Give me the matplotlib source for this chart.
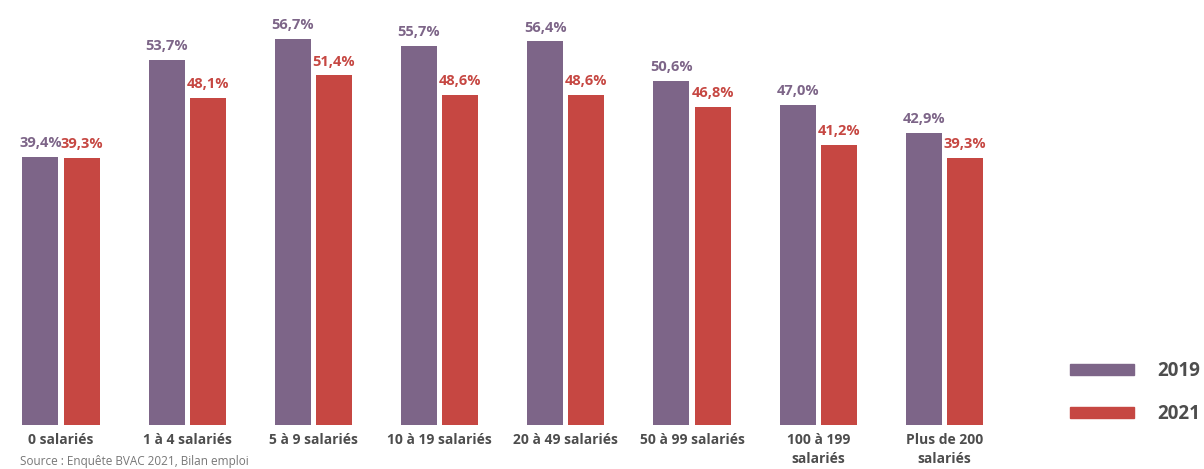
import matplotlib.pyplot as plt
import numpy as np
from matplotlib.patches import Patch

categories = ['0 salariés', '1 à 4 salariés', '5 à 9 salariés', '10 à 19 salariés',
              '20 à 49 salariés', '50 à 99 salariés', '100 à 199\nsalariés', 'Plus de 200\nsalariés']
vals_2019 = [39.4, 53.7, 56.7, 55.7, 56.4, 50.6, 47.0, 42.9]
vals_2021 = [39.3, 48.1, 51.4, 48.6, 48.6, 46.8, 41.2, 39.3]
years = ['2019', '2021']

purple = '#7d6588'
red = '#c64742'
grey = '#4d4d4d'

plt.rcParams['font.family'] = ['Open Sans', 'DejaVu Sans']

fig = plt.figure(figsize=(12.04, 4.69), dpi=100)
ax = fig.add_axes([0, 44 / 469, 1, 425 / 469])

x = np.arange(len(categories))
w = 0.285
off = 0.163
b1 = ax.bar(x - off, vals_2019, w, color=purple)
b2 = ax.bar(x + off, vals_2021, w, color=red)

def fmt(v):
    return f'{v:.1f}%'.replace('.', ',')

for bars, vals, c in [(b1, vals_2019, purple), (b2, vals_2021, red)]:
    for bar, v in zip(bars, vals):
        ax.annotate(fmt(v), (bar.get_x() + bar.get_width() / 2, v),
                    xytext=(0, 5), textcoords='offset points',
                    ha='center', va='bottom', color=c, fontsize=10.5, fontweight='bold')

# group spacing of ~126 px, first group centred near x = 61 px
ax.set_xlim(-61 / 126.2, (1204 - 61) / 126.2)
ax.set_ylim(0, 62.5)
ax.set_xticks(x)
ax.set_xticklabels(categories, fontsize=10, fontweight='bold', color=grey, linespacing=1.45)
ax.tick_params(axis='x', length=0, pad=6)
ax.set_yticks([])
for s in ax.spines.values():
    s.set_visible(False)

handles = [Patch(color=purple), Patch(color=red)]
fig.legend(handles, years, loc='center left', bbox_to_anchor=(1070 / 1204, 0.163),
           frameon=False, borderpad=0, borderaxespad=0,
           handlelength=3.4, handleheight=0.55, handletextpad=1.25, labelspacing=1.2,
           labelcolor=grey, prop={'weight': 'bold', 'size': 13.5})

fig.text(20 / 1204, 1 / 469, 'Source : Enquête BVAC 2021, Bilan emploi',
         va='bottom', ha='left', fontsize=8.5, color='#777777')

fig.savefig('out.png', dpi=100)
